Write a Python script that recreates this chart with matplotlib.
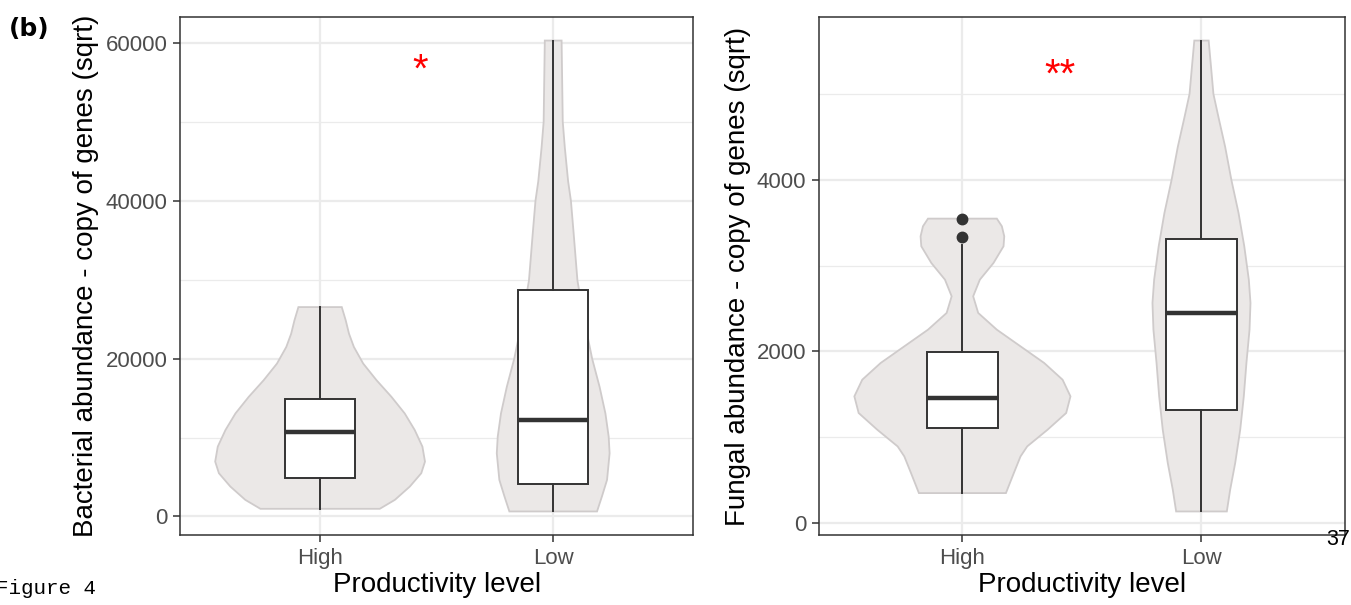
import numpy as np
import matplotlib.pyplot as plt

plt.rcParams['font.family'] = ['Liberation Sans', 'DejaVu Sans']

groups = ['High', 'Low']
positions = [1, 2]

# bacterial abundance (sqrt) - box summaries for High, Low
bact_whislo = [968, 632]
bact_q1 = [4842, 4084]
bact_med = [10653, 12168]
bact_q3 = [14863, 28716]
bact_whishi = [26526, 60296]
bact_fliers = [[], []]

# fungal abundance (sqrt) - box summaries for High, Low
fung_whislo = [350, 136]
fung_q1 = [1104, 1314]
fung_med = [1461, 2448]
fung_q3 = [1990, 3311]
fung_whishi = [3245, 5623]
fung_fliers = [[3339, 3545], []]

# violin outlines: value, half width (x units)
bact_high_y = [968, 2105, 3789, 5474, 6947, 8842, 10947, 13053, 15158, 17263,
               19368, 21474, 23158, 24842, 26526]
bact_high_w = [0.256, 0.321, 0.385, 0.434, 0.450, 0.439, 0.406, 0.363, 0.306, 0.242,
               0.185, 0.145, 0.124, 0.110, 0.093]
bact_low_y = [632, 2526, 4632, 8000, 10105, 13053, 16421, 20000, 24900, 29895,
              36130, 40000, 42467, 46692, 50000, 60296]
bact_low_w = [0.188, 0.209, 0.231, 0.242, 0.238, 0.224, 0.199, 0.167, 0.133, 0.104,
              0.087, 0.076, 0.064, 0.050, 0.041, 0.036]
fung_high_y = [350, 583, 777, 894, 1088, 1283, 1477, 1671, 1866, 2060, 2254, 2449,
               2643, 2837, 3031, 3226, 3342, 3459, 3548]
fung_high_w = [0.182, 0.215, 0.243, 0.271, 0.356, 0.434, 0.452, 0.419, 0.342, 0.243,
               0.144, 0.066, 0.045, 0.073, 0.130, 0.172, 0.175, 0.165, 0.144]
fung_low_y = [136, 389, 700, 1088, 1477, 1866, 2254, 2565, 2837, 3226, 3614, 4000,
              4385, 4731, 5000, 5346, 5623]
fung_low_w = [0.106, 0.120, 0.141, 0.162, 0.177, 0.188, 0.201, 0.205, 0.198, 0.179,
              0.155, 0.125, 0.099, 0.071, 0.050, 0.039, 0.030]

# significance marks (x, baseline y)
bact_sig = ('*', 1.43, 55030)
fung_sig = ('**', 1.41, 5090)

dark = '#333333'


def violin(ax, pos, ys, ws):
    ys = np.array(ys)
    ws = np.array(ws)
    xs = np.concatenate([pos - ws, (pos + ws)[::-1]])
    yy = np.concatenate([ys, ys[::-1]])
    ax.fill(xs, yy, facecolor='#EBE8E7', edgecolor='#CFCBCB', lw=1.3, zorder=2)


def panel(ax, lo, q1, med, q3, hi, fliers, shapes, major, minor, ylabel, sig):
    allv = []
    for pos, (ys, ws) in zip(positions, shapes):
        violin(ax, pos, ys, ws)
        allv += list(ys)
    stats = []
    for i in range(2):
        stats.append(dict(whislo=lo[i], q1=q1[i], med=med[i], q3=q3[i],
                          whishi=hi[i], fliers=fliers[i]))
        allv += fliers[i]
    ax.bxp(stats, positions=positions, widths=0.3, patch_artist=True,
           showcaps=False, manage_ticks=False,
           boxprops=dict(facecolor='white', edgecolor=dark, lw=1.4),
           medianprops=dict(color=dark, lw=3.2, solid_capstyle='butt'),
           whiskerprops=dict(color=dark, lw=1.4),
           flierprops=dict(marker='o', markerfacecolor=dark, markeredgecolor=dark,
                           markersize=7.5),
           zorder=3)
    vmin, vmax = min(allv), max(allv)
    pad = 0.05 * (vmax - vmin)
    ax.set_ylim(vmin - pad, vmax + pad)
    ax.set_xlim(0.4, 2.6)
    ax.set_xticks(positions)
    ax.set_xticklabels(groups)
    ax.set_yticks(major)
    ax.set_yticks(minor, minor=True)
    ax.set_axisbelow(True)
    ax.grid(True, which='major', color='#EBEBEB', lw=1.6)
    ax.grid(True, which='minor', axis='y', color='#EBEBEB', lw=0.9)
    ax.tick_params(which='major', length=5, width=1.1, color=dark,
                   labelsize=16, labelcolor='#4D4D4D', pad=4)
    ax.tick_params(which='minor', length=0)
    for s in ax.spines.values():
        s.set_color(dark)
        s.set_linewidth(1.1)
    ax.set_xlabel('Productivity level', fontsize=20)
    ax.xaxis.set_label_coords(0.5, -0.072)
    ax.set_ylabel(ylabel, fontsize=20)
    ax.text(sig[1], sig[2], sig[0], color='red', fontsize=29, ha='center', va='baseline')


fig = plt.figure(figsize=(13.51, 6.05), dpi=100)
ax1 = fig.add_axes([0.1334, 0.1157, 0.3796, 0.8562])
ax2 = fig.add_axes([0.6062, 0.1157, 0.3893, 0.8562])

panel(ax1, bact_whislo, bact_q1, bact_med, bact_q3, bact_whishi, bact_fliers,
      [(bact_high_y, bact_high_w), (bact_low_y, bact_low_w)],
      [0, 20000, 40000, 60000], [10000, 30000, 50000],
      'Bacterial abundance - copy of genes (sqrt)', bact_sig)
ax1.yaxis.set_label_coords(-0.158, 0.5)

panel(ax2, fung_whislo, fung_q1, fung_med, fung_q3, fung_whishi, fung_fliers,
      [(fung_high_y, fung_high_w), (fung_low_y, fung_low_w)],
      [0, 2000, 4000], [1000, 3000, 5000],
      'Fungal abundance - copy of genes (sqrt)', fung_sig)
ax2.yaxis.set_label_coords(-0.129, 0.5)

fig.text(0.0067, 0.952, '(b)', fontsize=18, fontweight='bold', family='DejaVu Sans',
         ha='left', va='center')
fig.text(-0.003, 0.028, 'Figure 4', fontsize=15, family='Liberation Mono',
         ha='left', va='center')
fig.text(0.9905, 0.109, '37', fontsize=15.5, color='black', ha='center', va='center')

fig.savefig('out.png', dpi=100)
